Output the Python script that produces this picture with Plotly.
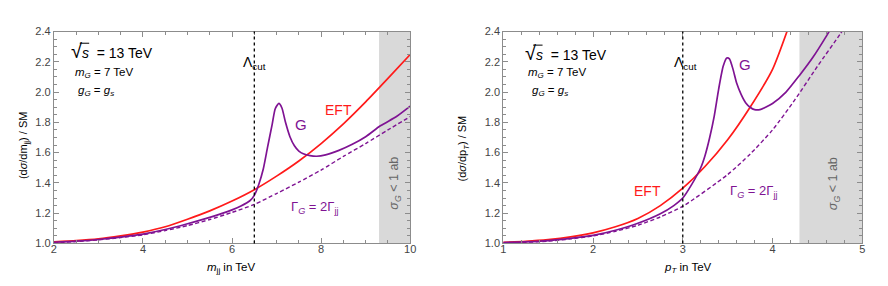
import plotly.graph_objects as go

# ---------------- data ----------------
# Left panel: m_jj in TeV
mjj_eft = [2, 2.5, 3, 3.5, 4, 4.5, 5, 5.5, 6, 6.5, 7, 7.5, 8, 8.5, 9, 9.5, 10]
eft_left = [1.01, 1.018, 1.03, 1.05, 1.075, 1.11, 1.16, 1.215, 1.28, 1.355, 1.445,
            1.545, 1.66, 1.79, 1.935, 2.09, 2.248]

mjj_g = [2, 2.5, 3, 3.5, 4, 4.5, 5, 5.5, 6, 6.2, 6.4, 6.5, 6.6, 6.7, 6.8, 6.9, 6.97,
         7.05, 7.12, 7.2, 7.3, 7.4, 7.5, 7.6, 7.75, 7.9, 8.1, 8.4, 8.7, 9.0, 9.33, 9.7, 10]
g_left = [1.008, 1.015, 1.026, 1.042, 1.062, 1.092, 1.13, 1.172, 1.222, 1.247, 1.282,
          1.318, 1.39, 1.49, 1.64, 1.785, 1.89, 1.925, 1.895, 1.80, 1.705, 1.645, 1.61,
          1.592, 1.58, 1.576, 1.585, 1.615, 1.655, 1.705, 1.777, 1.84, 1.907]

mjj_w = [2, 2.5, 3, 3.5, 4, 4.5, 5, 5.5, 6, 6.5, 7, 7.5, 8, 8.5, 9, 9.5, 10]
w_left = [1.005, 1.012, 1.024, 1.039, 1.057, 1.085, 1.118, 1.158, 1.205, 1.258, 1.33,
          1.405, 1.485, 1.575, 1.66, 1.75, 1.838]

# Right panel: p_T in TeV
pt_eft = [1, 1.25, 1.5, 1.75, 2, 2.25, 2.5, 2.75, 3, 3.25, 3.5, 3.75, 4, 4.25]
eft_right = [1.008, 1.014, 1.025, 1.043, 1.07, 1.11, 1.165, 1.25, 1.365, 1.51, 1.685,
             1.90, 2.15, 2.55]

pt_g = [1, 1.25, 1.5, 1.75, 2, 2.25, 2.5, 2.75, 2.9, 3, 3.1, 3.2, 3.25, 3.3, 3.35, 3.4,
        3.45, 3.49, 3.52, 3.56, 3.6, 3.65, 3.7, 3.75, 3.8, 3.86, 4.0, 4.15, 4.3, 4.45,
        4.6, 4.7]
g_right = [1.006, 1.01, 1.018, 1.033, 1.053, 1.087, 1.133, 1.196, 1.25, 1.30, 1.39,
           1.50, 1.585, 1.70, 1.84, 2.02, 2.17, 2.225, 2.22, 2.15, 2.06, 1.985, 1.93,
           1.90, 1.884, 1.884, 1.925, 2.0, 2.11, 2.23, 2.37, 2.47]

pt_w = [1, 1.25, 1.5, 1.75, 2, 2.25, 2.5, 2.75, 3, 3.5, 3.75, 4.0, 4.25, 4.5, 4.75, 4.85]
w_right = [1.004, 1.008, 1.015, 1.03, 1.05, 1.08, 1.12, 1.175, 1.245, 1.455, 1.59,
           1.75, 1.95, 2.17, 2.38, 2.47]

# reference lines / bands
lambda_left = 6.5
lambda_right = 3.0
band_left = [9.3, 10]
band_right = [4.3, 5]

y_ticks = [1.0, 1.2, 1.4, 1.6, 1.8, 2.0, 2.2, 2.4]
x_ticks_left = [2, 4, 6, 8, 10]
x_ticks_right = [1, 2, 3, 4, 5]

# ---------------- style ----------------
RED = "#FF1A1A"
PURPLE = "#7F1393"
FRAME = "#8C8C8C"
TICKTXT = "#444444"
FONT = "Liberation Sans, Arial, sans-serif"
W, H = 888, 286

fig = go.Figure()


def add_line(x, y, color, xa, ya, dash="solid", width=1.7):
    fig.add_trace(go.Scatter(x=x, y=y, mode="lines", xaxis=xa, yaxis=ya,
                             line=dict(color=color, width=width, dash=dash,
                                       shape="spline", smoothing=0.6),
                             showlegend=False, hoverinfo="skip"))


add_line(mjj_w, w_left, PURPLE, "x", "y", dash="4px,2.5px", width=1.4)
add_line(mjj_eft, eft_left, RED, "x", "y")
add_line(mjj_g, g_left, PURPLE, "x", "y")

add_line(pt_w, w_right, PURPLE, "x2", "y2", dash="4px,2.5px", width=1.4)
add_line(pt_eft, eft_right, RED, "x2", "y2")
add_line(pt_g, g_right, PURPLE, "x2", "y2")

# gray bands and cut lines
for xr, yr, band, lam in [("x", "y", band_left, lambda_left),
                          ("x2", "y2", band_right, lambda_right)]:
    fig.add_shape(type="rect", xref=xr, yref=yr + " domain", x0=band[0], x1=band[1],
                  y0=0, y1=1, fillcolor="#D9D9D9", line_width=0, layer="below")
    fig.add_shape(type="line", xref=xr, yref=yr + " domain", x0=lam, x1=lam,
                  y0=0, y1=1, line=dict(color="black", width=1.3, dash="dot"))

axis_common = dict(showgrid=False, zeroline=False, showline=True, linecolor=FRAME,
                   linewidth=1, mirror="allticks", ticks="inside", ticklen=5,
                   tickcolor=FRAME, tickwidth=1,
                   tickfont=dict(family=FONT, size=11, color=TICKTXT))

y_dom = [1 - 239.5 / H, 1 - 18.3 / H]
fig.update_layout(
    width=W, height=H, margin=dict(l=0, r=0, t=0, b=0),
    paper_bgcolor="white", plot_bgcolor="white",
    xaxis=dict(domain=[43.3 / W, 403.3 / W], range=[2, 10], tickvals=x_ticks_left,
               minor=dict(dtick=0.5, ticks="inside", ticklen=3, tickcolor=FRAME),
               anchor="y", ticklabelstandoff=-5, **axis_common),
    yaxis=dict(domain=y_dom, range=[1.0, 2.4], tickvals=y_ticks, tickformat=".1f",
               minor=dict(dtick=0.05, ticks="inside", ticklen=3, tickcolor=FRAME),
               anchor="x", **axis_common),
    xaxis2=dict(domain=[497.3 / W, 860 / W], range=[1, 5], tickvals=x_ticks_right,
                minor=dict(dtick=0.2, ticks="inside", ticklen=3, tickcolor=FRAME),
                anchor="y2", ticklabelstandoff=-5, **axis_common),
    yaxis2=dict(domain=y_dom, range=[1.0, 2.4], tickvals=y_ticks, tickformat=".1f",
                minor=dict(dtick=0.05, ticks="inside", ticklen=3, tickcolor=FRAME),
                anchor="x2", **axis_common),
)


def ann(px, py, text, size=11, color="black", xanchor="center", angle=0):
    fig.add_annotation(x=px / W, y=1 - py / H, xref="paper", yref="paper",
                       text=text, showarrow=False, xanchor=xanchor, yanchor="middle",
                       textangle=angle, font=dict(family=FONT, size=size, color=color))


def overline(px0, px1, py):
    fig.add_shape(type="line", xref="paper", yref="paper",
                  x0=px0 / W, x1=px1 / W, y0=1 - py / H, y1=1 - py / H,
                  line=dict(color="black", width=1))


sqrt_txt = "<span style='font-size:20px'>√</span><i>s</i>  = 13 TeV"
mg_txt = "<i>m<sub>G</sub></i> = 7 TeV"
gg_txt = "<i>g<sub>G</sub></i> = <i>g<sub>s</sub></i>"
lam_txt = "Λ<sub>cut</sub>"
gam_txt = "Γ<sub><i>G</i></sub> = 2Γ<sub>jj</sub>"
sig_txt = "<i>σ<sub>G</sub></i> &lt; 1 ab"

# left panel labels
ann(59, 39, sqrt_txt, size=14, xanchor="left")
overline(69.5, 79, 30.5)
ann(63, 62, mg_txt, size=11.5, xanchor="left")
ann(66, 80, gg_txt, size=11.5, xanchor="left")
ann(246, 51, lam_txt, size=14)
ann(293, 115, "G", size=15, color=PURPLE)
ann(331, 100, "EFT", size=14, color=RED)
ann(307, 202, gam_txt, size=13, color=PURPLE)
ann(388, 177, sig_txt, size=12.5, color="#666666", angle=-90)
ann(13, 137, "(d<i>σ</i>/dm<sub>jj</sub>) / SM", size=11, angle=-90)
ann(222, 265, "<i>m</i><sub>jj</sub> in TeV", size=11.5)

# right panel labels
ann(517, 41, sqrt_txt, size=14, xanchor="left")
overline(527.5, 537, 32.5)
ann(520, 62, mg_txt, size=11.5, xanchor="left")
ann(524, 80, gg_txt, size=11.5, xanchor="left")
ann(681, 51, lam_txt, size=14)
ann(742, 53, "G", size=15, color=PURPLE)
ann(643, 185, "EFT", size=14, color=RED)
ann(751, 185, gam_txt, size=13, color=PURPLE)
ann(831, 177, sig_txt, size=12.5, color="#666666", angle=-90)
ann(457, 140, "(d<i>σ</i>/dp<sub><i>T</i></sub>) / SM", size=11, angle=-90)
ann(684, 265, "<i>p</i><sub><i>T</i></sub> in TeV", size=11.5)

fig.write_html("out.html")
